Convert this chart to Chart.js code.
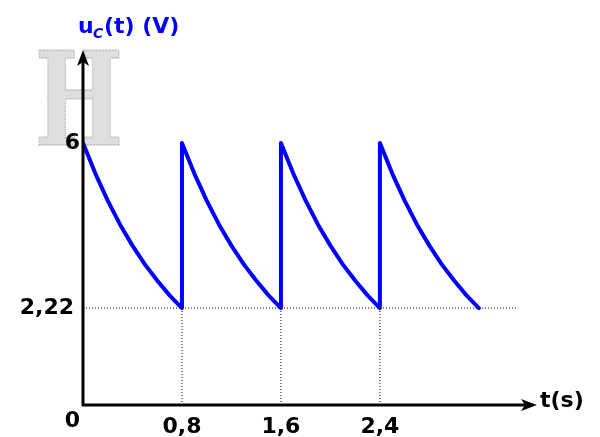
<!DOCTYPE html>
<html>
<head>
<meta charset="utf-8">
<script src="https://cdn.jsdelivr.net/npm/chart.js@4.4.0/dist/chart.umd.min.js"></script>
<style>
  html, body { margin: 0; padding: 0; background: #fff; }
  #wrap { width: 600px; height: 437px; position: relative; }
</style>
</head>
<body>
<div id="wrap"><canvas id="myChart"></canvas></div>
<script>
// values (t in s, u in V)
var segTimes = [0, 0.1, 0.2, 0.3, 0.4, 0.5, 0.6, 0.7, 0.8];
var segValues = [6, 5.30, 4.68, 4.13, 3.65, 3.22, 2.85, 2.51, 2.22];
var periodStarts = [0, 0.8, 1.6, 2.4];
var xTicks = [0.8, 1.6, 2.4];
var xTickLabels = ['0,8', '1,6', '2,4'];
var yTicks = [6, 2.22];
var yTickLabels = ['6', '2,22'];
var uMin = 2.22;
var dotEnd = 3.52;

var xMax = 3.67;
var yMax = 8.13;

// build the blue curve from the segments
var curve = [];
for (var i = 0; i < periodStarts.length; i++) {
    for (var j = 0; j < segTimes.length; j++) {
        curve.push({ x: periodStarts[i] + segTimes[j], y: segValues[j] });
    }
}

var datasets = [];
// dotted guides
datasets.push({
    data: [{ x: 0, y: uMin }, { x: dotEnd, y: uMin }],
    borderColor: '#000', borderWidth: 1, borderDash: [1, 2], pointRadius: 0
});
xTicks.forEach(function (t) {
    datasets.push({
        data: [{ x: t, y: 0 }, { x: t, y: uMin }],
        borderColor: '#000', borderWidth: 1, borderDash: [1, 2], pointRadius: 0
    });
});
datasets.push({
    data: curve,
    borderColor: '#0000ff', borderWidth: 4, pointRadius: 0,
    tension: 0, borderJoinStyle: 'round', borderCapStyle: 'round'
});

var FONT = 'bold 22px "DejaVu Sans"';

var axesPlugin = {
    id: 'axesPlugin',
    beforeDatasetsDraw: function (chart) {
        // grey "H" watermark
        var ctx = chart.ctx;
        ctx.save();
        ctx.translate(79, 145);
        ctx.scale(0.72, 1);
        ctx.font = 'bold 130px "DejaVu Serif"';
        ctx.textAlign = 'center';
        ctx.textBaseline = 'alphabetic';
        ctx.fillStyle = 'rgba(215,215,215,0.8)';
        ctx.fillText('H', 0, 0);
        ctx.strokeStyle = 'rgba(175,175,175,0.8)';
        ctx.lineWidth = 2;
        ctx.setLineDash([1, 1]);
        ctx.strokeText('H', 0, 0);
        ctx.restore();
    },
    afterDatasetsDraw: function (chart) {
        var ctx = chart.ctx;
        var xs = chart.scales.x, ys = chart.scales.y;
        var x0 = xs.getPixelForValue(0), y0 = ys.getPixelForValue(0);
        var xEnd = xs.getPixelForValue(xMax), yEnd = ys.getPixelForValue(yMax);
        ctx.save();
        ctx.strokeStyle = '#000';
        ctx.fillStyle = '#000';
        ctx.lineWidth = 3;
        ctx.beginPath();
        ctx.moveTo(x0, y0 + 1);
        ctx.lineTo(x0, yEnd + 8);
        ctx.moveTo(x0 - 1, y0);
        ctx.lineTo(xEnd - 8, y0);
        ctx.stroke();
        // arrow heads
        ctx.beginPath();
        ctx.moveTo(x0, yEnd);
        ctx.lineTo(x0 - 6, yEnd + 16);
        ctx.lineTo(x0, yEnd + 12);
        ctx.lineTo(x0 + 6, yEnd + 16);
        ctx.closePath();
        ctx.fill();
        ctx.beginPath();
        ctx.moveTo(xEnd, y0);
        ctx.lineTo(xEnd - 16, y0 - 6);
        ctx.lineTo(xEnd - 12, y0);
        ctx.lineTo(xEnd - 16, y0 + 6);
        ctx.closePath();
        ctx.fill();

        // tick labels
        ctx.font = FONT;
        ctx.textBaseline = 'middle';
        ctx.textAlign = 'center';
        xTicks.forEach(function (t, k) {
            ctx.fillText(xTickLabels[k], xs.getPixelForValue(t), y0 + 22);
        });
        ctx.textAlign = 'right';
        ctx.fillText(yTickLabels[0], x0 - 3, ys.getPixelForValue(yTicks[0]));
        ctx.fillText(yTickLabels[1], x0 - 9, ys.getPixelForValue(yTicks[1]));
        ctx.fillText('0', x0 - 3, y0 + 16);
        ctx.textAlign = 'left';
        ctx.fillText('t(s)', xEnd + 3, y0 - 4);

        // y axis title
        ctx.fillStyle = '#0000ff';
        ctx.textAlign = 'left';
        ctx.fillText('u', 78, 27);
        ctx.font = 'italic bold 14px "DejaVu Sans"';
        ctx.fillText('C', 93, 34);
        ctx.font = FONT;
        ctx.fillText('(t) (V)', 104, 27);
        ctx.restore();
    }
};

var chart = new Chart(document.getElementById('myChart').getContext('2d'), {
    type: 'line',
    data: { datasets: datasets },
    options: {
        responsive: true,
        maintainAspectRatio: false,
        animation: false,
        layout: { padding: { left: 83, right: 63, top: 50, bottom: 32 } },
        plugins: { legend: { display: false }, tooltip: { enabled: false } },
        scales: {
            x: { type: 'linear', min: 0, max: xMax, display: false },
            y: { type: 'linear', min: 0, max: yMax, display: false }
        }
    },
    plugins: [axesPlugin]
});
</script>
</body>
</html>
